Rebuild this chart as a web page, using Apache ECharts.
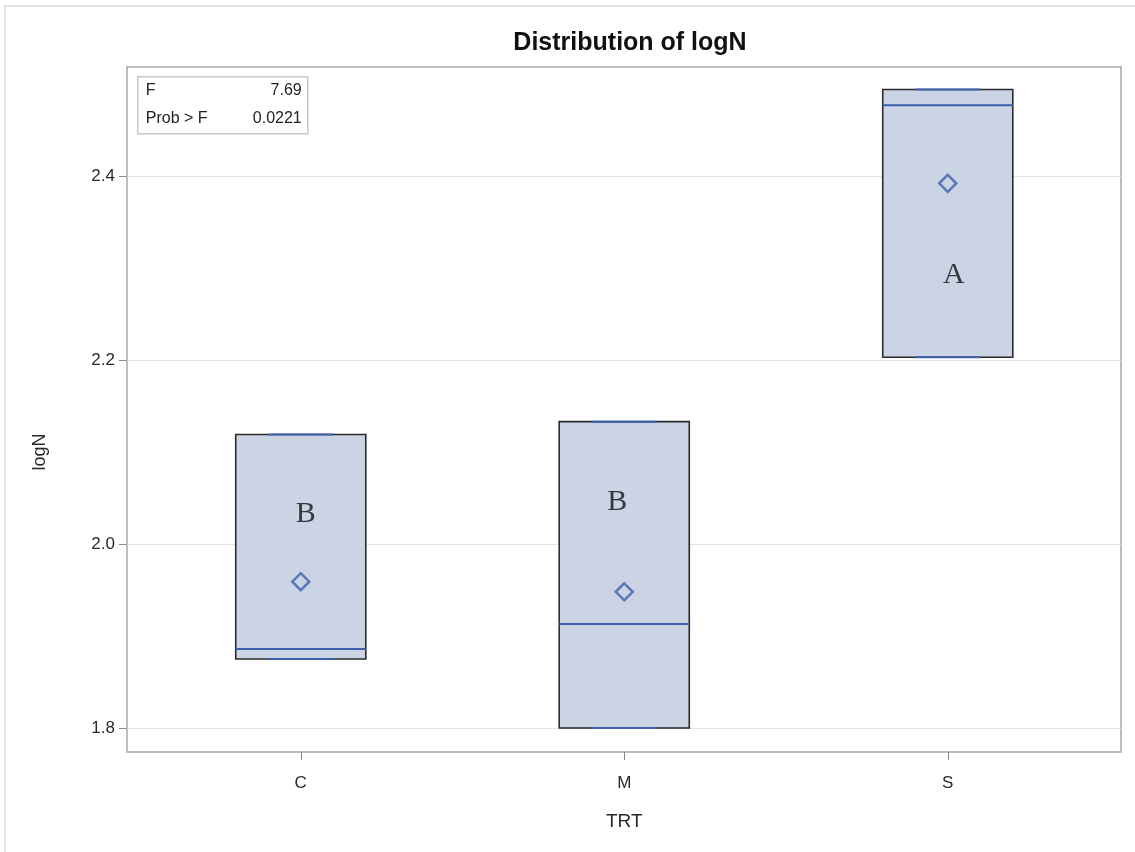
<!DOCTYPE html>
<html>
<head>
<meta charset="utf-8">
<title>Distribution of logN</title>
<script src="https://cdn.jsdelivr.net/npm/echarts@6/dist/echarts.min.js"></script>
<style>
  html, body { margin: 0; padding: 0; background: #fff; }
  #chart { width: 1135px; height: 852px; }
</style>
</head>
<body>
<div id="chart"></div>
<script>
// 分组与箱线图统计值
const groups = ['C', 'M', 'S'];
const mins = [1.875, 1.800, 2.203];
const q1s = [1.875, 1.800, 2.203];
const medians = [1.886, 1.913, 2.477];
const q3s = [2.119, 2.133, 2.494];
const maxs = [2.119, 2.133, 2.494];
const means = [1.959, 1.948, 2.392];
// 多重比较字母及其所在高度
const letters = ['B', 'B', 'A'];
const letterY = [2.033, 2.045, 2.292];
const yTicks = [1.8, 2.0, 2.2, 2.4];
const fStat = '7.69';
const pValue = '0.0221';

const FONT = 'Liberation Sans, Arial, sans-serif';
const BOX_FILL = '#cad4e4';
const BOX_EDGE = '#2a2a2a';
const BLUE = '#3d5fae';

// 画箱体：黑色边框，蓝色中位线和须线端
function renderBox(params, api) {
  const i = api.value(0);
  const bw = api.size([1, 0])[0] * 0.402;
  const pMin = api.coord([i, api.value(1)]);
  const pQ1 = api.coord([i, api.value(2)]);
  const pMed = api.coord([i, api.value(3)]);
  const pQ3 = api.coord([i, api.value(4)]);
  const pMax = api.coord([i, api.value(5)]);
  const x = pQ1[0];
  const capHalf = bw / 4;
  return {
    type: 'group',
    children: [
      { type: 'line', shape: { x1: x, y1: pQ3[1], x2: x, y2: pMax[1] }, style: { stroke: BLUE, lineWidth: 1.5 } },
      { type: 'line', shape: { x1: x, y1: pQ1[1], x2: x, y2: pMin[1] }, style: { stroke: BLUE, lineWidth: 1.5 } },
      {
        type: 'rect',
        shape: { x: x - bw / 2, y: pQ3[1], width: bw, height: pQ1[1] - pQ3[1] },
        style: { fill: BOX_FILL, stroke: BOX_EDGE, lineWidth: 1.6 }
      },
      { type: 'line', shape: { x1: x - bw / 2, y1: pMed[1], x2: x + bw / 2, y2: pMed[1] }, style: { stroke: BLUE, lineWidth: 2 } },
      { type: 'line', shape: { x1: x - capHalf, y1: pMax[1], x2: x + capHalf, y2: pMax[1] }, style: { stroke: BLUE, lineWidth: 2 } },
      { type: 'line', shape: { x1: x - capHalf, y1: pMin[1], x2: x + capHalf, y2: pMin[1] }, style: { stroke: BLUE, lineWidth: 2 } }
    ]
  };
}

const boxData = groups.map((g, i) => [i, mins[i], q1s[i], medians[i], q3s[i], maxs[i]]);
const meanData = groups.map((g, i) => [i, means[i]]);
const letterOffsets = [[5, 0], [-7, 0], [6, 0]];
const letterData = groups.map((g, i) => ({
  value: [i, letterY[i]],
  label: { formatter: letters[i], offset: letterOffsets[i] }
}));

const chart = echarts.init(document.getElementById('chart'));

const option = {
  backgroundColor: '#fff',
  animation: false,
  title: {
    text: 'Distribution of logN',
    left: 625,
    textAlign: 'center',
    top: 26,
    textStyle: { fontFamily: FONT, fontSize: 25, fontWeight: 'bold', color: '#111' }
  },
  grid: [
    // 外框
    { left: 127, right: 14, top: 67, bottom: 100, show: true, borderColor: '#a8a8a8', borderWidth: 1.5, backgroundColor: 'transparent' },
    // y 轴和网格线
    { left: 127, right: 14, top: 176, bottom: 124 },
    // 箱体
    { left: 139, right: 25.5, top: 176, bottom: 124 }
  ],
  xAxis: [
    { gridIndex: 0, type: 'value', show: false },
    { gridIndex: 1, type: 'value', show: false },
    {
      gridIndex: 2,
      type: 'category',
      data: groups,
      offset: 24,
      axisLine: { show: false },
      axisTick: { show: true, alignWithLabel: true, length: 8, lineStyle: { color: '#8a8a8a' } },
      axisLabel: { fontFamily: FONT, fontSize: 17, color: '#2a2a2a', margin: 23 },
      name: 'TRT',
      nameLocation: 'middle',
      nameGap: 60,
      nameTextStyle: { fontFamily: FONT, fontSize: 19, color: '#2a2a2a' }
    }
  ],
  yAxis: [
    { gridIndex: 0, type: 'value', show: false },
    {
      gridIndex: 1,
      type: 'value',
      min: yTicks[0],
      max: yTicks[yTicks.length - 1],
      interval: 0.2,
      axisLine: { show: false },
      axisTick: { show: true, length: 8, lineStyle: { color: '#8a8a8a' } },
      axisLabel: { fontFamily: FONT, fontSize: 17, color: '#2a2a2a', margin: 12, formatter: v => v.toFixed(1) },
      splitLine: { show: true, lineStyle: { color: '#e4e4e4', width: 1.2 } },
      name: 'logN',
      nameLocation: 'middle',
      nameGap: 78,
      nameTextStyle: { fontFamily: FONT, fontSize: 18, color: '#2a2a2a' }
    },
    {
      gridIndex: 2,
      type: 'value',
      show: false,
      min: yTicks[0],
      max: yTicks[yTicks.length - 1]
    }
  ],
  series: [
    {
      type: 'custom',
      xAxisIndex: 2,
      yAxisIndex: 2,
      renderItem: renderBox,
      encode: { x: 0, y: [1, 2, 3, 4, 5] },
      data: boxData,
      clip: false,
      z: 2
    },
    {
      type: 'scatter',
      xAxisIndex: 2,
      yAxisIndex: 2,
      data: meanData,
      symbol: 'diamond',
      symbolSize: 17,
      clip: false,
      itemStyle: { color: 'rgba(0,0,0,0)', borderColor: BLUE, borderWidth: 2.5 },
      z: 3
    },
    {
      type: 'scatter',
      xAxisIndex: 2,
      yAxisIndex: 2,
      data: letterData,
      symbolSize: 1,
      clip: false,
      itemStyle: { color: 'rgba(0,0,0,0)' },
      label: {
        show: true,
        position: 'inside',
        fontFamily: 'Liberation Serif, DejaVu Serif, serif',
        fontSize: 30,
        color: '#111'
      },
      z: 4
    }
  ],
  graphic: [
    // 整体外边线
    { type: 'rect', shape: { x: 5, y: 6, width: 1140, height: 860 }, style: { fill: 'none', stroke: '#e2e2e2', lineWidth: 2 }, silent: true },
    // F 检验结果框
    {
      type: 'group',
      left: 137,
      top: 76,
      children: [
        { type: 'rect', shape: { x: 0, y: 0, width: 170, height: 57 }, style: { fill: '#fff', stroke: '#c8c8c8', lineWidth: 1.5 } },
        { type: 'text', x: 8, y: 14, style: { text: 'F', font: '16px ' + FONT, fill: '#222', textVerticalAlign: 'middle' } },
        { type: 'text', x: 164, y: 14, style: { text: fStat, font: '16px ' + FONT, fill: '#222', textAlign: 'right', textVerticalAlign: 'middle' } },
        { type: 'text', x: 8, y: 42, style: { text: 'Prob > F', font: '16px ' + FONT, fill: '#222', textVerticalAlign: 'middle' } },
        { type: 'text', x: 164, y: 42, style: { text: pValue, font: '16px ' + FONT, fill: '#222', textAlign: 'right', textVerticalAlign: 'middle' } }
      ]
    }
  ]
};

chart.setOption(option);
window.addEventListener('resize', function () {
  chart.resize();
});
</script>
</body>
</html>
